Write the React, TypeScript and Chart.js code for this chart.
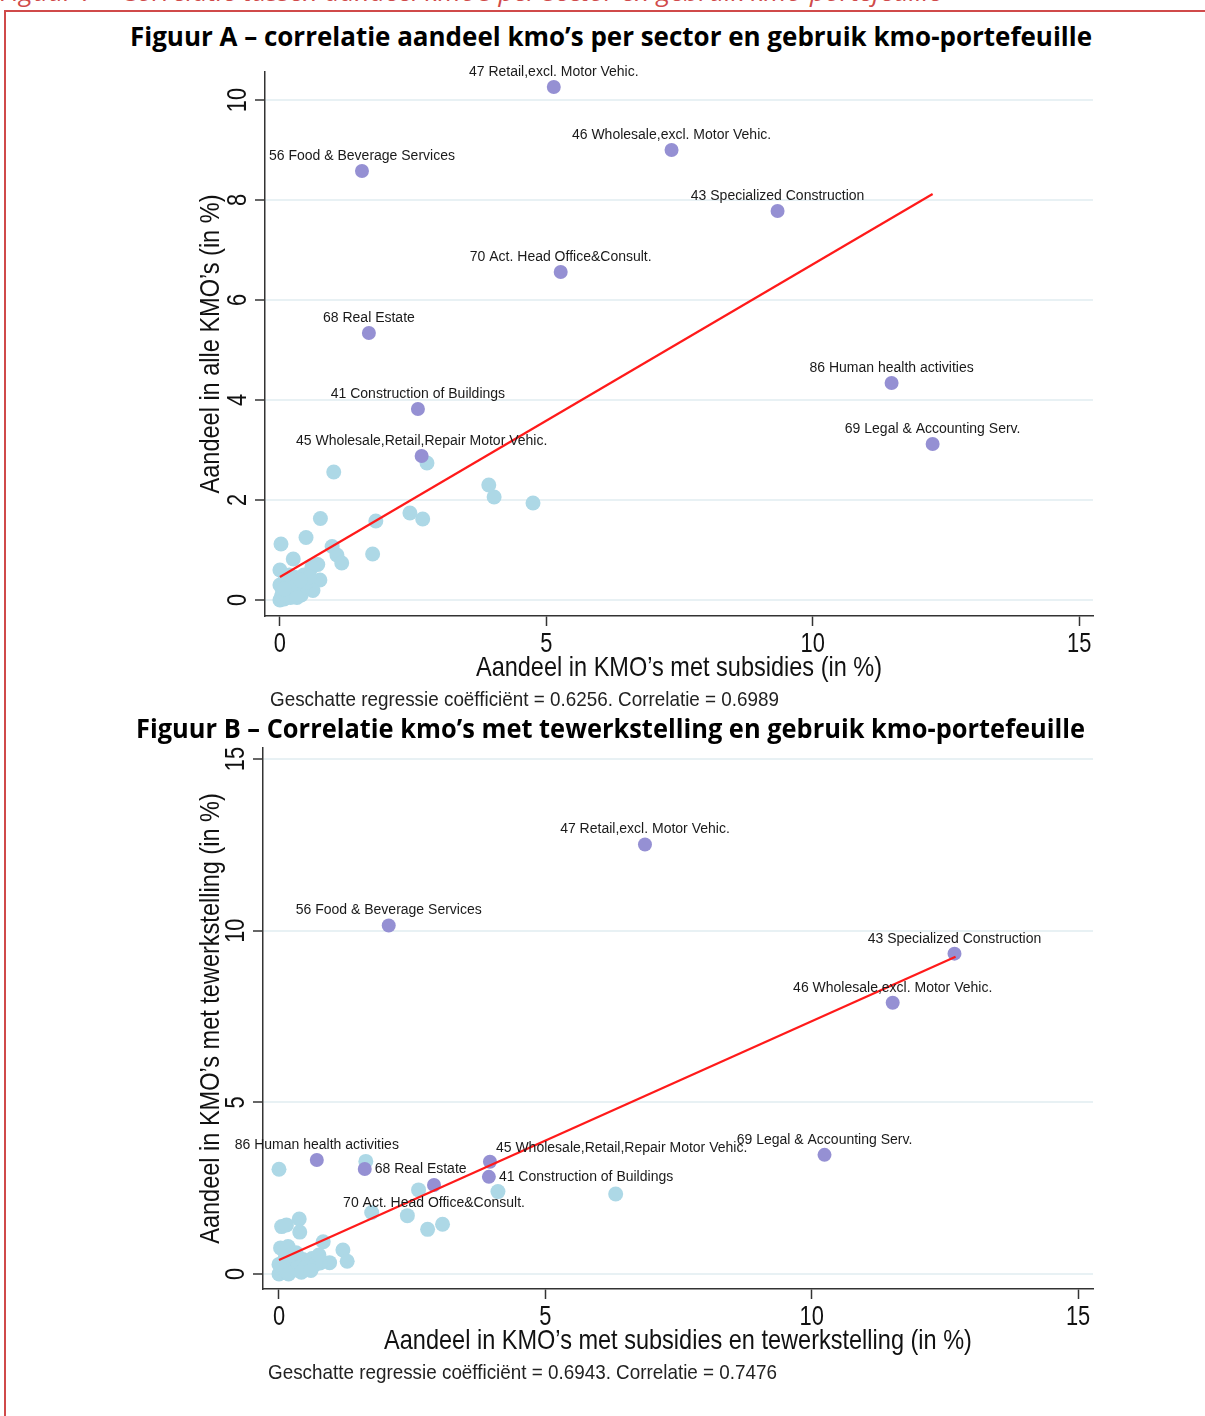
import React, { useEffect, useRef, useLayoutEffect, useState } from 'react';
import { Chart, registerables } from 'chart.js';

Chart.register(...registerables);

// ---------- data ----------
const xTickValues = [0, 5, 10, 15];
const yTickValuesA = [0, 2, 4, 6, 8, 10];
const yTickValuesB = [0, 5, 10, 15];

const sectorNamesA = [
  '47 Retail,excl. Motor Vehic.',
  '46 Wholesale,excl. Motor Vehic.',
  '56 Food & Beverage Services',
  '43 Specialized Construction',
  '70 Act. Head Office&Consult.',
  '68 Real Estate',
  '86 Human health activities',
  '41 Construction of Buildings',
  '69 Legal & Accounting Serv.',
  '45 Wholesale,Retail,Repair Motor Vehic.',
];
const sectorXA = [5.14, 7.35, 1.54, 9.34, 5.27, 1.67, 11.48, 2.59, 12.25, 2.66];
const sectorYA = [10.26, 9.0, 8.58, 7.78, 6.56, 5.34, 4.34, 3.82, 3.12, 2.88];
const labelPlacementA = ['above', 'above', 'above', 'above', 'above', 'above', 'above', 'above', 'above', 'above'];

const otherXA = [1.01, 2.76, 3.92, 4.02, 4.75, 0.76, 1.8, 2.44, 2.68, 0.49, 0.02, 0.98, 1.07, 1.16, 1.74, 0.25, 0.0, 0.71, 0.6, 0.75, 0.62,
  0.0, 0.03, 0.08, 0.05, 0.12, 0.0, 0.15, 0.2, 0.22, 0.28, 0.3, 0.35, 0.4, 0.43, 0.45, 0.5, 0.56, 0.1, 0.18, 0.25, 0.32, 0.08, 0.38];
const otherYA = [2.56, 2.74, 2.3, 2.06, 1.94, 1.63, 1.58, 1.74, 1.62, 1.25, 1.12, 1.07, 0.9, 0.74, 0.92, 0.82, 0.6, 0.71, 0.66, 0.4, 0.19,
  0.0, 0.08, 0.02, 0.18, 0.1, 0.3, 0.25, 0.05, 0.35, 0.15, 0.45, 0.28, 0.1, 0.26, 0.5, 0.35, 0.46, 0.42, 0.5, 0.26, 0.05, 0.22, 0.4];

const fitXA = [0, 12.25];
const fitYA = [0.46, 8.12];

const sectorNamesB = [
  '47 Retail,excl. Motor Vehic.',
  '56 Food & Beverage Services',
  '43 Specialized Construction',
  '46 Wholesale,excl. Motor Vehic.',
  '69 Legal & Accounting Serv.',
  '86 Human health activities',
  '68 Real Estate',
  '45 Wholesale,Retail,Repair Motor Vehic.',
  '41 Construction of Buildings',
  '70 Act. Head Office&Consult.',
];
const sectorXB = [6.87, 2.06, 12.68, 11.52, 10.24, 0.71, 1.61, 3.96, 3.94, 2.91];
const sectorYB = [12.51, 10.15, 9.33, 7.9, 3.47, 3.32, 3.06, 3.27, 2.83, 2.59];
const labelPlacementB = ['above', 'above', 'above', 'above', 'above', 'above', 'right', 'aboveRight', 'right', 'below'];

const otherXB = [0.0, 1.63, 2.62, 4.11, 6.32, 1.74, 2.41, 2.79, 3.07, 0.05, 0.14, 0.38, 0.39, 0.03, 0.17, 0.83, 1.2, 1.28, 0.95, 0.77,
  0.0, 0.05, 0.1, 0.15, 0.2, 0.25, 0.3, 0.35, 0.4, 0.45, 0.5, 0.55, 0.62, 0.68, 0.75, 0.08, 0.12, 0.22, 0.32, 0.0, 0.18, 0.42, 0.6];
const otherYB = [3.05, 3.28, 2.45, 2.4, 2.33, 1.79, 1.7, 1.3, 1.45, 1.38, 1.43, 1.6, 1.22, 0.76, 0.8, 0.94, 0.7, 0.37, 0.33, 0.32,
  0.0, 0.08, 0.15, 0.05, 0.22, 0.1, 0.3, 0.18, 0.28, 0.42, 0.2, 0.32, 0.45, 0.28, 0.55, 0.35, 0.48, 0.55, 0.62, 0.28, 0.0, 0.05, 0.1];

const fitXB = [0, 12.7];
const fitYB = [0.41, 9.24];

const headerText = 'Figuur 7 – Correlatie tussen aandeel kmo’s per sector en gebruik kmo-portefeuille';
const titleA = 'Figuur A – correlatie aandeel kmo’s per sector en gebruik kmo-portefeuille';
const titleB = 'Figuur B – Correlatie kmo’s met tewerkstelling en gebruik kmo-portefeuille';
const xTitleA = 'Aandeel in KMO’s met subsidies (in %)';
const yTitleA = 'Aandeel in alle KMO’s (in %)';
const xTitleB = 'Aandeel in KMO’s met subsidies en tewerkstelling (in %)';
const yTitleB = 'Aandeel in KMO’s met tewerkstelling (in %)';
const noteA = 'Geschatte regressie coëfficiënt = 0.6256. Correlatie = 0.6989';
const noteB = 'Geschatte regressie coëfficiënt = 0.6943. Correlatie = 0.7476';

// ---------- styles ----------
const ARIAL = "'Liberation Sans', Arial, sans-serif";
const TITLE_FONT = "'Open Sans', 'Noto Sans', sans-serif";
const PURPLE = '#9590d3';
const LIGHTBLUE = '#add8e6';
const RED_LINE = '#ff1a1a';
const AXIS = '#333333';

const zip = (xs: number[], ys: number[]) => xs.map((x, i) => ({ x, y: ys[i] }));

const pointLabelPlugin = {
  id: 'pointLabels',
  afterDatasetsDraw(chart: any, _args: any, opts: any) {
    const meta = chart.getDatasetMeta(opts.datasetIndex);
    const ctx = chart.ctx;
    ctx.save();
    ctx.font = `14px ${ARIAL}`;
    ctx.fillStyle = '#1a1a1a';
    ctx.textBaseline = 'middle';
    meta.data.forEach((el: any, i: number) => {
      const name = opts.labels[i];
      const pl = opts.placement[i];
      let x = el.x, y = el.y;
      if (pl === 'above') { ctx.textAlign = 'center'; y -= 15; }
      else if (pl === 'below') { ctx.textAlign = 'center'; y += 18; }
      else if (pl === 'right') { ctx.textAlign = 'left'; x += 10; }
      else if (pl === 'aboveRight') { ctx.textAlign = 'left'; x += 6; y -= 14; }
      ctx.fillText(name, x, y);
    });
    ctx.restore();
  },
};

// Narrow (horizontally condensed Arial) tick labels and axis titles
const axisTextPlugin = {
  id: 'axisText',
  afterDraw(chart: any, _args: any, opts: any) {
    const sx = chart.scales.x;
    const sy = chart.scales.y;
    const ca = chart.chartArea;
    const ctx = chart.ctx;
    const draw = (text: string, px: number, py: number, rot: boolean, squeeze: number) => {
      ctx.save();
      ctx.translate(px, py);
      if (rot) ctx.rotate(-Math.PI / 2);
      ctx.scale(squeeze, 1);
      ctx.fillText(text, 0, 0);
      ctx.restore();
    };
    ctx.save();
    ctx.font = `28px ${ARIAL}`;
    ctx.fillStyle = '#111';
    ctx.textAlign = 'center';
    ctx.textBaseline = 'middle';
    for (const v of xTickValues) draw(String(v), sx.getPixelForValue(v), ca.bottom + 28, false, 0.78);
    for (const v of opts.yTicks) draw(String(v), ca.left - 27, sy.getPixelForValue(v), true, 0.78);
    draw(opts.xTitle, (ca.left + ca.right) / 2, ca.bottom + 52, false, 0.84);
    draw(opts.yTitle, ca.left - opts.yTitleOffset, (ca.top + ca.bottom) / 2, true, 0.84);
    ctx.restore();
  },
};

function makeConfig(p: any) {
  return {
    type: 'scatter',
    data: {
      datasets: [
        { label: 'fit', data: p.fit, showLine: true, borderColor: RED_LINE, borderWidth: 2.2, pointRadius: 0, order: 0 },
        { label: 'sectors', data: p.sectors, backgroundColor: PURPLE, borderWidth: 0, pointRadius: 7, order: 1 },
        { label: 'others', data: p.others, backgroundColor: LIGHTBLUE, borderWidth: 0, pointRadius: 7.5, order: 2 },
      ],
    },
    options: {
      animation: false,
      responsive: false,
      maintainAspectRatio: false,
      layout: { padding: p.padding },
      plugins: {
        legend: { display: false },
        tooltip: { enabled: false },
        pointLabels: { datasetIndex: 1, labels: p.labels, placement: p.placement },
        axisText: { yTicks: p.yTicks, xTitle: p.xTitle, yTitle: p.yTitle, yTitleOffset: p.yTitleOffset },
      },
      scales: {
        x: {
          type: 'linear',
          min: p.xMin,
          max: p.xMax,
          afterBuildTicks: (s: any) => { s.ticks = xTickValues.map((v) => ({ value: v })); },
          afterFit: (s: any) => { s.height = 68; },
          grid: { drawOnChartArea: false, drawTicks: true, tickLength: 10, tickColor: AXIS, tickWidth: 1.5 },
          border: { display: true, color: AXIS, width: 1.5 },
          ticks: { display: false },
          title: { display: false },
        },
        y: {
          type: 'linear',
          min: p.yMin,
          max: p.yMax,
          afterBuildTicks: (s: any) => { s.ticks = p.yTicks.map((v: number) => ({ value: v })); },
          afterFit: (s: any) => { s.width = p.yWidth; },
          grid: { drawOnChartArea: true, color: '#e8f1f4', lineWidth: 2, drawTicks: true, tickLength: 10, tickColor: AXIS, tickWidth: 1.5 },
          border: { display: true, color: AXIS, width: 1.5 },
          ticks: { display: false },
          title: { display: false },
        },
      },
    },
    plugins: [pointLabelPlugin, axisTextPlugin],
  };
}

function ScatterCanvas({ top, height, params }: any) {
  const ref = useRef<HTMLCanvasElement>(null);
  useEffect(() => {
    if (!ref.current) return;
    const chart = new Chart(ref.current, makeConfig(params) as any);
    return () => chart.destroy();
  }, []);
  return (
    <canvas
      ref={ref}
      width={1205}
      height={height}
      style={{ position: 'absolute', left: 0, top, width: 1205, height }}
    />
  );
}

function FitText({ text, left, cy, width, size, family, weight, italic, color }: any) {
  const [scale, setScale] = useState(1);
  const font = `${italic ? 'italic ' : ''}${weight || 400} ${size}px ${family}`;
  useLayoutEffect(() => {
    const c = document.createElement('canvas').getContext('2d');
    if (!c) return;
    c.font = font;
    const w = c.measureText(text).width;
    if (w > 0) setScale(width / w);
  }, [text, font, width]);
  return (
    <div
      style={{
        position: 'absolute',
        left,
        top: cy - size * 0.5,
        whiteSpace: 'nowrap',
        font,
        lineHeight: `${size}px`,
        color,
        transform: `scaleX(${scale})`,
        transformOrigin: '0 0',
      }}
    >
      {text}
    </div>
  );
}

export default function App() {
  const paramsA = {
    fit: zip(fitXA, fitYA),
    sectors: zip(sectorXA, sectorYA),
    others: zip(otherXA, otherYA),
    labels: sectorNamesA,
    placement: labelPlacementA,
    yTicks: yTickValuesA,
    xMin: -0.28, xMax: 15.26, yMin: -0.32, yMax: 10.56,
    padding: { left: 194, right: 112, top: 17, bottom: 31 },
    yWidth: 71,
    yTitleOffset: 54,
    xTitle: xTitleA,
    yTitle: yTitleA,
  };
  const paramsB = {
    fit: zip(fitXB, fitYB),
    sectors: zip(sectorXB, sectorYB),
    others: zip(otherXB, otherYB),
    labels: sectorNamesB,
    placement: labelPlacementB,
    yTicks: yTickValuesB,
    xMin: -0.3, xMax: 15.28, yMin: -0.437, yMax: 15.32,
    padding: { left: 194, right: 112, top: 8, bottom: 59 },
    yWidth: 69,
    yTitleOffset: 52,
    xTitle: xTitleB,
    yTitle: yTitleB,
  };
  return (
    <div style={{ position: 'absolute', left: 0, top: 0, width: 1205, height: 1416, background: '#fff', overflow: 'hidden' }}>
      <FitText text={headerText} left={0} cy={-8} width={942} size={24} family={TITLE_FONT} italic color="#d04a4a" />
      <div style={{ position: 'absolute', left: 4, top: 10, width: 1201, height: 2, background: '#d04a4a' }} />
      <div style={{ position: 'absolute', left: 4, top: 10, width: 2, height: 1406, background: '#d04a4a' }} />
      <FitText text={titleA} left={130} cy={35} width={962} size={27} family={TITLE_FONT} weight={700} color="#000" />
      <ScatterCanvas top={55} height={660} params={paramsA} />
      <FitText text={noteA} left={270} cy={698} width={509} size={21} family={ARIAL} color="#222" />
      <FitText text={titleB} left={136} cy={727} width={949} size={27} family={TITLE_FONT} weight={700} color="#000" />
      <ScatterCanvas top={740} height={676} params={paramsB} />
      <FitText text={noteB} left={268} cy={1371} width={509} size={21} family={ARIAL} color="#222" />
    </div>
  );
}
